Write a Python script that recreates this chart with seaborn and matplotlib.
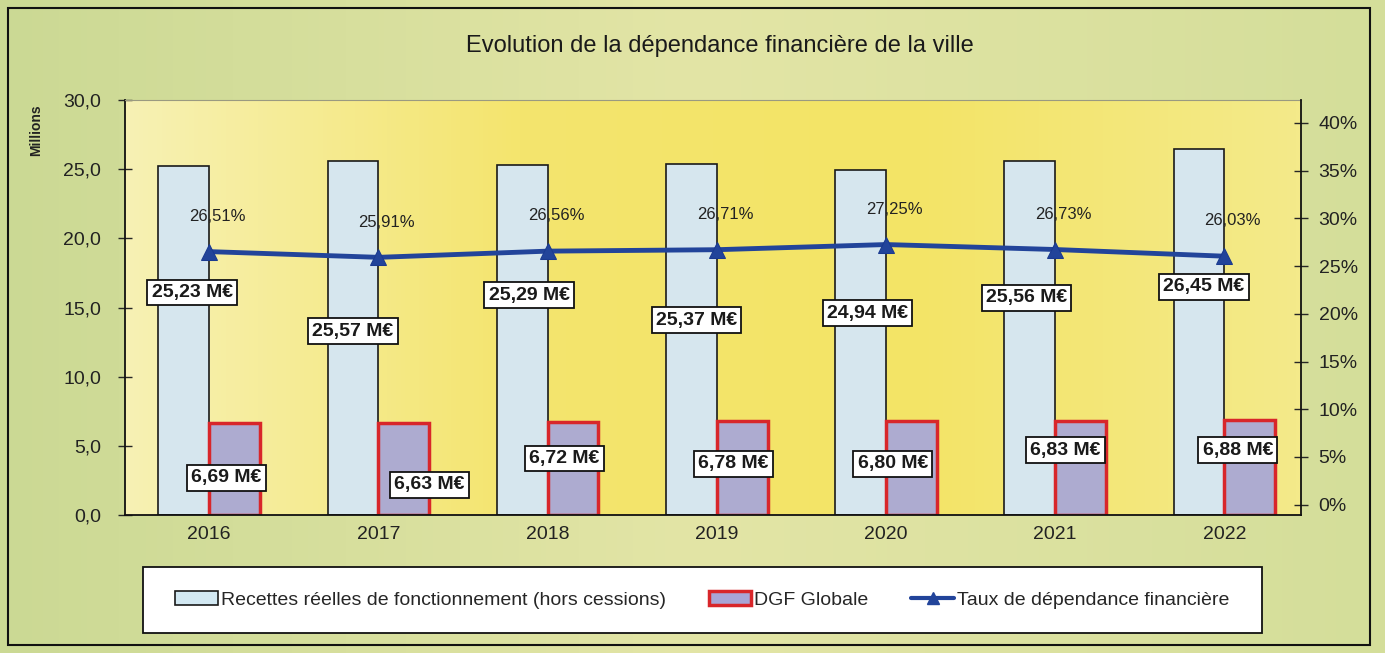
import numpy as np
import pandas as pd
import matplotlib
matplotlib.use("Agg")
import matplotlib.pyplot as plt
from matplotlib.patches import Patch, Rectangle
from matplotlib.lines import Line2D
from matplotlib.ticker import FuncFormatter
from matplotlib.colors import LinearSegmentedColormap
import seaborn as sns

# Données
annees = ['2016', '2017', '2018', '2019', '2020', '2021', '2022']
recettes = [25.23, 25.57, 25.29, 25.37, 24.94, 25.56, 26.45]   # M€
dgf = [6.69, 6.63, 6.72, 6.78, 6.80, 6.83, 6.88]               # M€
taux = [26.51, 25.91, 26.56, 26.71, 27.25, 26.73, 26.03]       # %

serie_rec = 'Recettes réelles de fonctionnement (hors cessions)'
serie_dgf = 'DGF Globale'
serie_taux = 'Taux de dépendance financière'

# placement des étiquettes (mise en page uniquement)
pos_rec = [(-0.10, 16.1), (-0.15, 13.3), (-0.11, 15.9), (-0.12, 14.1),
           (-0.11, 14.6), (-0.17, 15.7), (-0.12, 16.5)]
pos_dgf = [(0.10, 2.7), (0.30, 2.2), (0.10, 4.1), (0.10, 3.7),
           (0.04, 3.7), (0.06, 4.7), (0.08, 4.7)]

sns.set_style("white")
plt.rcParams['font.family'] = ['Liberation Sans Narrow', 'Liberation Sans', 'DejaVu Sans']

df = pd.DataFrame({
    'annee': annees * 2,
    'valeur': recettes + dgf,
    'serie': [serie_rec] * len(annees) + [serie_dgf] * len(annees),
})

c_rec = '#d2e8f2'
c_dgf = '#a8a5d6'
c_rouge = '#d8262a'
c_ligne = '#22449a'

fig = plt.figure(figsize=(13.85, 6.53), dpi=100)
fig.patch.set_facecolor('#dbe2a6')

# fond dégradé vert/jaune
bg = fig.add_axes([0, 0, 1, 1], zorder=-10)
grad = np.linspace(0, 1, 256).reshape(1, -1)
cm_bg = LinearSegmentedColormap.from_list('bg', ['#cbd994', '#e3e5a6', '#d4de9a'])
bg.imshow(grad, aspect='auto', cmap=cm_bg, extent=[0, 1, 0, 1])
bg.set_axis_off()

ax = fig.add_axes([0.090, 0.211, 0.849, 0.636])

sns.barplot(data=df, x='annee', y='valeur', hue='serie',
            palette={serie_rec: c_rec, serie_dgf: c_dgf},
            width=0.6, ax=ax, legend=False, zorder=2)

for i, p in enumerate(ax.patches):
    if i < len(annees):
        p.set_edgecolor('#1a1a1a')
        p.set_linewidth(1.2)
    else:
        p.set_edgecolor(c_rouge)
        p.set_linewidth(2.5)

# dégradé jaune de la zone de tracé
cm_fond = LinearSegmentedColormap.from_list('fond', ['#f7f1b4', '#f4e56e', '#f3e466', '#f4ea8a'])
ax.imshow(grad, aspect='auto', cmap=cm_fond, extent=[-0.5, 6.45, 0, 30], zorder=0)

ax.set_xlim(-0.5, 6.45)
ax.set_ylim(0, 30)
ax.set_yticks(np.arange(0, 30.1, 5))
ax.yaxis.set_major_formatter(FuncFormatter(lambda v, _: f"{v:.1f}".replace('.', ',')))
ax.set_xlabel('')
ax.set_ylabel('')
ax.tick_params(axis='y', direction='inout', length=10, width=1, labelsize=14, pad=12,
               labelcolor='#222222')
ax.tick_params(axis='x', direction='inout', length=8, width=1, labelsize=14, pad=4,
               labelcolor='#222222')
for s in ['left', 'bottom']:
    ax.spines[s].set_color('#111111')
    ax.spines[s].set_linewidth(1.3)
ax.spines['top'].set_color('#9a9a80')
ax.spines['top'].set_linewidth(0.8)
ax.spines['right'].set_visible(False)

ax2 = ax.twinx()
sns.lineplot(x=annees, y=taux, ax=ax2, color=c_ligne, lw=3.5,
             marker='^', markersize=12, markeredgecolor='#1a3a90', zorder=5)
ax2.set_ylim(-1.1, 42.4)
ax2.set_yticks(np.arange(0, 41, 5))
ax2.yaxis.set_major_formatter(FuncFormatter(lambda v, _: f"{v:.0f}%"))
ax2.tick_params(axis='y', direction='inout', length=10, width=1, labelsize=14, pad=8,
                labelcolor='#222222')
ax2.spines['right'].set_color('#111111')
ax2.spines['right'].set_linewidth(1.3)
for s in ['left', 'top', 'bottom']:
    ax2.spines[s].set_visible(False)
ax2.set_xlim(-0.5, 6.45)

# étiquettes
box = dict(boxstyle='square,pad=0.22', fc='white', ec='#111111', lw=1.3)
for i in range(len(annees)):
    dx, y = pos_rec[i]
    ax.text(i + dx, y, f"{recettes[i]:.2f} M€".replace('.', ','), ha='center', va='center',
            fontsize=14, fontweight='bold', color='#1a1a1a', bbox=box, zorder=6)
    dx, y = pos_dgf[i]
    ax.text(i + dx, y, f"{dgf[i]:.2f} M€".replace('.', ','), ha='center', va='center',
            fontsize=14, fontweight='bold', color='#1a1a1a', bbox=box, zorder=6)
    ax2.annotate(f"{taux[i]:.2f}%".replace('.', ','), (i, taux[i]), xytext=(6, 20),
                 textcoords='offset points', ha='center', va='bottom',
                 fontsize=12, color='#222222', zorder=6)

fig.text(0.52, 0.930, 'Evolution de la dépendance financière de la ville',
         ha='center', va='center', fontsize=17, color='#1a1a1a')
fig.text(0.026, 0.80, 'Millions', rotation=90, ha='center', va='center',
         fontsize=10, fontweight='bold', color='#222222')

# cadre extérieur et boîte de légende
fig.patches.append(Rectangle((0.006, 0.012), 0.983, 0.976, transform=fig.transFigure,
                             fill=False, ec='#111111', lw=1.5, zorder=20))
fig.patches.append(Rectangle((0.103, 0.030), 0.808, 0.101, transform=fig.transFigure,
                             fc='white', ec='#111111', lw=1.3, zorder=1))

handles = [
    Patch(facecolor=c_rec, edgecolor='#1a1a1a', lw=1.2, label=serie_rec),
    Patch(facecolor=c_dgf, edgecolor=c_rouge, lw=2.5, label=serie_dgf),
    Line2D([0], [0], color=c_ligne, lw=3, marker='^', markersize=8, label=serie_taux),
]
leg = fig.legend(handles=handles, loc='center', bbox_to_anchor=(0.507, 0.081), ncol=3,
                 frameon=False, fontsize=14, columnspacing=2.2, handlelength=2.2,
                 handletextpad=0.15)
leg.set_zorder(25)

fig.savefig('out.png', dpi=100, facecolor=fig.get_facecolor())
